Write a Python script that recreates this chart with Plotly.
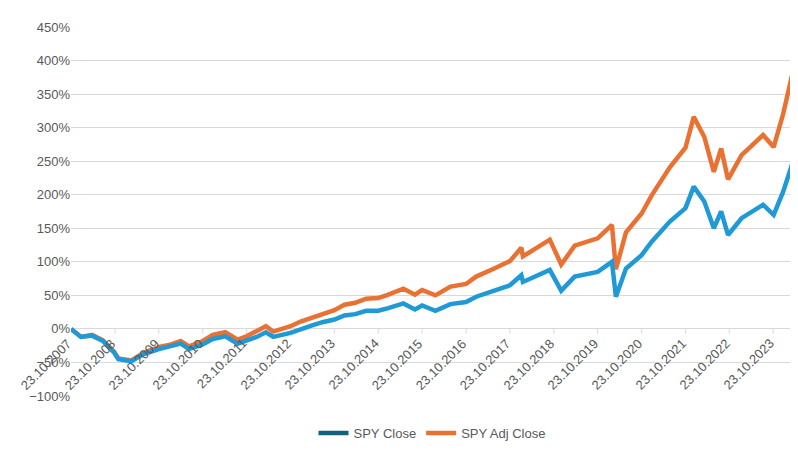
import plotly.graph_objects as go

dates = ["2007-10-23","2008-01-15","2008-04-15","2008-07-15","2008-10-15","2008-11-20","2009-03-09","2009-06-15","2009-10-23",
"2010-01-15","2010-04-23","2010-07-01","2010-10-23","2011-01-15","2011-04-29","2011-08-10","2011-10-23","2012-01-15",
"2012-04-01","2012-06-01","2012-10-23","2013-01-15","2013-04-15","2013-07-15","2013-10-23","2014-01-15","2014-04-15",
"2014-07-15","2014-10-23","2015-01-15","2015-05-20","2015-08-25","2015-10-23","2016-02-11","2016-06-15","2016-10-23",
"2017-01-15","2017-06-15","2017-10-23","2018-01-26","2018-02-08","2018-09-20","2018-12-24","2019-04-15","2019-10-23",
"2020-02-19","2020-03-23","2020-06-15","2020-10-23","2021-01-15","2021-06-15","2021-10-23","2021-12-31","2022-03-29",
"2022-06-16","2022-08-16","2022-10-12","2023-02-02","2023-07-31","2023-10-27","2024-01-15","2024-03-28"]
spy_close = [0,-12,-10,-18,-35,-45,-48,-38,-30,-27,-22,-30,-23,-15,-11,-22,-18,-12,-5,-12,-6,0,5,10,14,20,22,27,27,31,38,29,35,
27,37,40,48,57,65,80,70,88,57,78,85,100,48,90,110,130,160,180,212,190,150,175,140,165,185,170,205,245]
spy_adj = [0,-12,-9,-17,-34,-44,-47,-36,-27,-24,-18,-26,-18,-9,-5,-16,-11,-4,4,-4,4,11,17,23,28,36,39,45,46,51,60,51,58,
50,63,67,78,90,101,121,108,133,96,124,135,155,89,144,172,199,241,270,316,286,234,269,223,259,289,271,321,378]
tick_years = list(range(2007, 2024))

blue, dark, orange = "#1f9ad6", "#156082", "#e97132"
grey = "#595959"
fig = go.Figure()
fig.add_trace(go.Scatter(x=[dates[0]], y=[None], mode="lines", line=dict(color=dark, width=4.5), name="SPY Close"))
fig.add_trace(go.Scatter(x=[dates[0]], y=[None], mode="lines", line=dict(color=orange, width=4.5), name="SPY Adj Close"))
fig.add_trace(go.Scatter(x=dates, y=spy_adj, mode="lines", line=dict(color=orange, width=4.5), showlegend=False))
fig.add_trace(go.Scatter(x=dates, y=spy_close, mode="lines", line=dict(color=blue, width=4.5), showlegend=False))

for yr in tick_years:
    d = f"{yr}-10-23"
    fig.add_annotation(x=d, y=0, text=f"23.10.{yr}", showarrow=False, textangle=-45,
                       xanchor="right", yanchor="top", xshift=6, yshift=-4,
                       font=dict(size=13, color=grey))
    fig.add_shape(type="line", x0=d, x1=d, y0=0, y1=-7, line=dict(color="#d9d9d9", width=1), layer="below")

fig.update_layout(
    width=798, height=452, margin=dict(l=63, r=13, t=14, b=51),
    plot_bgcolor="white", paper_bgcolor="white",
    font=dict(family="Liberation Sans, Arial", size=13, color=grey),
    xaxis=dict(type="date", range=["2007-10-23", "2024-04-05"], showticklabels=False, showgrid=False, zeroline=False),
    yaxis=dict(range=[-100, 450], dtick=50, ticksuffix="%", gridcolor="#d9d9d9", zeroline=False,
               tickfont=dict(size=13, color=grey)),
    legend=dict(orientation="h", x=0.5, xanchor="center", y=-0.06, yanchor="top", font=dict(size=13, color=grey)),
)
fig.write_html("out.html")
